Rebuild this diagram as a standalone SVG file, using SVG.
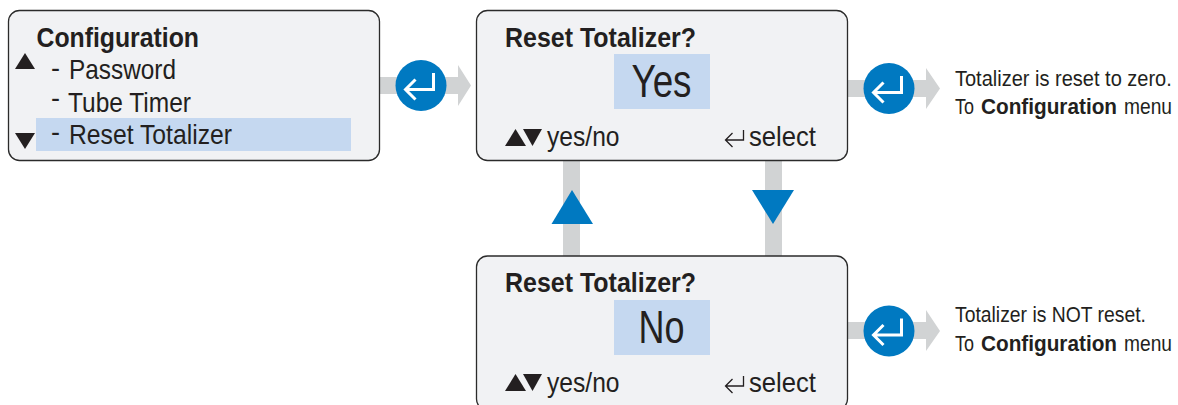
<svg xmlns="http://www.w3.org/2000/svg" width="1178" height="405" viewBox="0 0 1178 405">
<style>
text{font-family:"Liberation Sans",Arial,sans-serif;fill:#231f20}
.box{fill:#f1f2f4;stroke:#2b2b2b;stroke-width:1.3}
.hl{fill:#c5d8f0}
.bar{fill:#d1d3d4}
.blue{fill:#0079c1}
.k{fill:#231f20}
.ret{fill:none;stroke:#fff;stroke-width:3}
.ret2{fill:none;stroke:#231f20;stroke-width:1.3}
.t28b{font-size:28px;font-weight:700}
.t28{font-size:28px}
.t46{font-size:46px}
.t22{font-size:22px}
.t22b{font-size:22px;font-weight:700}
</style>
<defs>
<g id="enter"><circle cx="0" cy="0" r="25.500" class="blue"/><path class="ret" d="M12.500 -12.500V4H-15M-5.500 -6L-15.500 4L-5.500 14"/></g>
<g id="ret"><path class="ret2" d="M18 -10V0H0M7 -7L0 0L7 7"/></g>
</defs>
<g id="connectors">
<path class="bar" d="M379 77H458V65L471 85.500L458 106V94H379Z"/>
<path class="bar" d="M848 80H926V68L940 88.500L926 109V97H848Z"/>
<path class="bar" d="M848 322H926V310L940 331L926 351V339H848Z"/>
<rect class="bar" x="563" y="161" width="17" height="95"/>
<rect class="bar" x="765" y="161" width="17" height="95"/>
<path class="blue" d="M572 190L593 224H551.500Z"/>
<path class="blue" d="M752 190H794L773 224Z"/>
<use href="#enter" x="421" y="85.500"/>
<use href="#enter" x="889" y="88.500"/>
<use href="#enter" x="889" y="331"/>
</g>
<g id="node-config">
<rect class="box" x="8.500" y="10.500" width="371" height="150" rx="11"/>
<rect class="hl" x="36" y="118" width="315" height="33"/>
<path class="k" d="M15 69L25 53L35 69Z"/>
<path class="k" d="M15 133H35L25 149Z"/>
<text class="t28b" x="36.500" y="47" textLength="162.500" lengthAdjust="spacingAndGlyphs">Configuration</text>
<text class="t28" x="51" y="77" textLength="9" lengthAdjust="spacingAndGlyphs">-</text>
<text class="t28" x="69" y="79" textLength="107" lengthAdjust="spacingAndGlyphs">Password</text>
<text class="t28" x="51" y="107" textLength="9" lengthAdjust="spacingAndGlyphs">-</text>
<text class="t28" x="68" y="112" textLength="123" lengthAdjust="spacingAndGlyphs">Tube Timer</text>
<text class="t28" x="51" y="141" textLength="9" lengthAdjust="spacingAndGlyphs">-</text>
<text class="t28" x="69" y="143.500" textLength="163" lengthAdjust="spacingAndGlyphs">Reset Totalizer</text>
</g>
<g id="node-yes">
<rect class="box" x="476.500" y="10.500" width="371" height="150" rx="11"/>
<rect class="hl" x="614" y="54" width="96" height="55"/>
<text class="t28b" x="505" y="46.500" textLength="191" lengthAdjust="spacingAndGlyphs">Reset Totalizer?</text>
<text class="t46" x="631.500" y="97" textLength="60" lengthAdjust="spacingAndGlyphs">Yes</text>
<path class="k" d="M505 146L515.500 129L526 146Z"/><path class="k" d="M523 129H542L532.500 146Z"/>
<text class="t28" x="547" y="146" textLength="72.500" lengthAdjust="spacingAndGlyphs">yes/no</text>
<use href="#ret" x="725.500" y="140"/>
<text class="t28" x="749" y="146" textLength="67" lengthAdjust="spacingAndGlyphs">select</text>
</g>
<g id="node-no">
<rect class="box" x="476.500" y="256" width="371" height="154" rx="11"/>
<rect class="hl" x="614" y="300" width="96" height="55"/>
<text class="t28b" x="505" y="292" textLength="191" lengthAdjust="spacingAndGlyphs">Reset Totalizer?</text>
<text class="t46" x="638.500" y="343" textLength="46" lengthAdjust="spacingAndGlyphs">No</text>
<path class="k" d="M505 391L515.500 374L526 391Z"/><path class="k" d="M523 374H542L532.500 391Z"/>
<text class="t28" x="547" y="391.500" textLength="72.500" lengthAdjust="spacingAndGlyphs">yes/no</text>
<use href="#ret" x="725.500" y="386"/>
<text class="t28" x="749" y="391.500" textLength="67" lengthAdjust="spacingAndGlyphs">select</text>
</g>
<g id="note-yes">
<text class="t22" transform="translate(955 85.500) scale(.91 1)">Totalizer is reset to zero.</text>
<text class="t22" x="955" y="114" textLength="19" lengthAdjust="spacingAndGlyphs">To</text>
<text class="t22b" x="981" y="114" textLength="136" lengthAdjust="spacingAndGlyphs">Configuration</text>
<text class="t22" x="1124" y="114" textLength="48" lengthAdjust="spacingAndGlyphs">menu</text>
</g>
<g id="note-no">
<text class="t22" x="955" y="322" textLength="191" lengthAdjust="spacingAndGlyphs">Totalizer is NOT reset.</text>
<text class="t22" x="955" y="351" textLength="19" lengthAdjust="spacingAndGlyphs">To</text>
<text class="t22b" x="981" y="351" textLength="136" lengthAdjust="spacingAndGlyphs">Configuration</text>
<text class="t22" x="1124" y="351" textLength="48" lengthAdjust="spacingAndGlyphs">menu</text>
</g>
</svg>
